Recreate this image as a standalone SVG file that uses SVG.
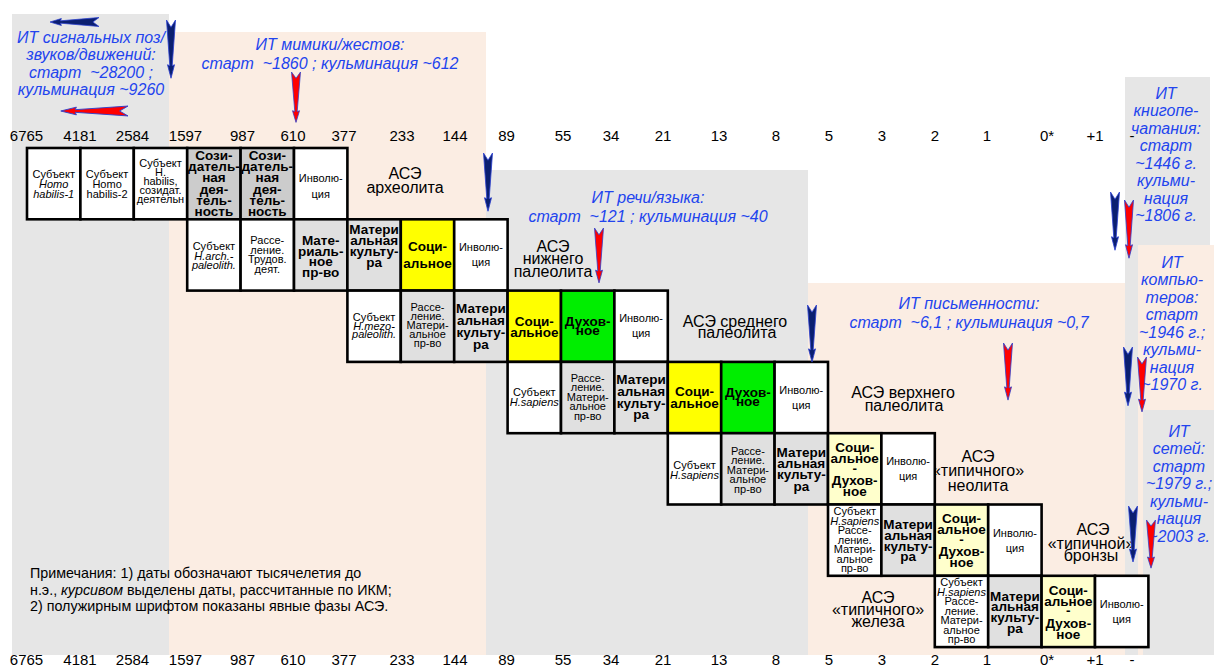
<svg xmlns="http://www.w3.org/2000/svg" xmlns:xlink="http://www.w3.org/1999/xlink" width="1214" height="668" viewBox="0 0 1214 668">
<style>
text{font-family:"Liberation Sans",Arial,sans-serif}
.ax{font-size:15px;text-anchor:middle;fill:#000}
.bl{font-size:16px;font-style:italic;fill:#2244ee;text-anchor:middle}
.ase{font-size:16px;text-anchor:middle;fill:#000}
.t{font-size:11px;text-anchor:middle;fill:#000}
.tb{font-size:13.5px;font-weight:bold;text-anchor:middle;fill:#000}
.i{font-style:italic}
.nt{font-size:14.3px;fill:#000}
rect.b{stroke:#000;stroke-width:2.6}
.w{fill:#fff}.g1{fill:#cccccc}.g2{fill:#e0e0e0}.y{fill:#ffff00}.gr{fill:#00ee00}.ly{fill:#ffffcc}
.na{fill:#0b1f70;stroke:#2a3fd0;stroke-width:.8}
.ra{fill:#ff0000;stroke:#2a3fd0;stroke-width:.8}
</style>
<defs>
<path id="arr" d="M-4.5,0 L0,7 L4.5,0 L1.2,44 L3.5,43 L0,56 L-3.5,43 L-1.2,44 Z"/>
</defs>
<rect width="1214" height="668" fill="#fff"/>
<g id="background">
<rect x="12" y="14" width="157" height="641" fill="#e6e6e6"/>
<rect x="169" y="32" width="317" height="623" fill="#fbede3"/>
<rect x="486" y="170" width="322" height="485" fill="#e6e6e6"/>
<rect x="808" y="283" width="317" height="372" fill="#fbede3"/>
<rect x="1125" y="77" width="85" height="168" fill="#e6e6e6"/>
<rect x="1125" y="245" width="13" height="410" fill="#e6e6e6"/>
<rect x="1138" y="245" width="76" height="165" fill="#fbede3"/>
<rect x="1138" y="410" width="5" height="245" fill="#fbede3"/>
<rect x="1143" y="410" width="71" height="245" fill="#e6e6e6"/>
</g>
<g id="axis-top" class="ax">
<text x="26.5" y="141">6765</text><text x="80" y="141">4181</text><text x="132.5" y="141">2584</text><text x="185.5" y="141">1597</text><text x="242.5" y="141">987</text><text x="293" y="141">610</text><text x="344" y="141">377</text><text x="402" y="141">233</text><text x="455" y="141">144</text><text x="506.5" y="141">89</text><text x="563" y="141">55</text><text x="611" y="141">34</text><text x="663" y="141">21</text><text x="719" y="141">13</text><text x="776" y="141">8</text><text x="829" y="141">5</text><text x="882" y="141">3</text><text x="935" y="141">2</text><text x="987" y="141">1</text><text x="1047" y="141">0*</text><text x="1095" y="141">+1</text><text x="1132" y="141">-</text>
</g>
<g id="axis-bottom" class="ax">
<text x="26.5" y="665">6765</text><text x="80" y="665">4181</text><text x="132.5" y="665">2584</text><text x="185.5" y="665">1597</text><text x="242.5" y="665">987</text><text x="293" y="665">610</text><text x="344" y="665">377</text><text x="402" y="665">233</text><text x="455" y="665">144</text><text x="506.5" y="665">89</text><text x="563" y="665">55</text><text x="611" y="665">34</text><text x="663" y="665">21</text><text x="719" y="665">13</text><text x="776" y="665">8</text><text x="829" y="665">5</text><text x="882" y="665">3</text><text x="935" y="665">2</text><text x="987" y="665">1</text><text x="1047" y="665">0*</text><text x="1095" y="665">+1</text><text x="1132" y="665">-</text>
</g>
<g id="it-labels" class="bl">
<text><tspan x="91" y="42.5">ИТ сигнальных поз/</tspan><tspan x="91" y="60">звуков/движений:</tspan><tspan x="91" y="77.5">старт&#160; ~28200 ;</tspan><tspan x="91" y="95">кульминация ~9260</tspan></text>
<text><tspan x="330" y="49.5">ИТ мимики/жестов:</tspan><tspan x="330" y="68.5">старт&#160; ~1860 ; кульминация ~612</tspan></text>
<text><tspan x="648" y="202.5">ИТ речи/языка:</tspan><tspan x="648" y="221.5">старт&#160; ~121 ; кульминация ~40</tspan></text>
<text><tspan x="969" y="308.5">ИТ письменности:</tspan><tspan x="969" y="327.5">старт&#160; ~6,1 ; кульминация ~0,7</tspan></text>
<text><tspan x="1166" y="98.5">ИТ</tspan><tspan x="1166" y="116">книгопе-</tspan><tspan x="1166" y="133.5">чатания:</tspan><tspan x="1166" y="151">старт</tspan><tspan x="1166" y="168.5">~1446 г.</tspan><tspan x="1166" y="186">кульми-</tspan><tspan x="1166" y="203.5">нация</tspan><tspan x="1166" y="221">~1806 г.</tspan></text>
<text><tspan x="1172" y="267.5">ИТ</tspan><tspan x="1172" y="285">компью-</tspan><tspan x="1172" y="302.5">теров:</tspan><tspan x="1172" y="320">старт</tspan><tspan x="1172" y="337.5">~1946 г.;</tspan><tspan x="1172" y="355">кульми-</tspan><tspan x="1172" y="372.5">нация</tspan><tspan x="1172" y="390">~1970 г.</tspan></text>
<text><tspan x="1179" y="436.5">ИТ</tspan><tspan x="1179" y="454">сетей:</tspan><tspan x="1179" y="471.5">старт</tspan><tspan x="1179" y="489">~1979 г.;</tspan><tspan x="1179" y="506.5">кульми-</tspan><tspan x="1179" y="524">нация</tspan><tspan x="1179" y="541.5">~2003 г.</tspan></text>
</g>
<g id="ase-labels" class="ase">
<text><tspan x="405" y="178.5">АСЭ</tspan><tspan x="405" y="193">археолита</tspan></text>
<text><tspan x="553" y="251.5">АСЭ</tspan><tspan x="553" y="264">нижнего</tspan><tspan x="553" y="276.5">палеолита</tspan></text>
<text><tspan x="735" y="326.5">АСЭ среднего</tspan><tspan x="737" y="338">палеолита</tspan></text>
<text><tspan x="903" y="397.5">АСЭ верхнего</tspan><tspan x="904" y="410.5">палеолита</tspan></text>
<text><tspan x="978" y="461.5">АСЭ</tspan><tspan x="978" y="476">«типичного»</tspan><tspan x="978" y="490.5">неолита</tspan></text>
<text><tspan x="1093" y="535">АСЭ</tspan><tspan x="1091" y="548.5">«типичной»</tspan><tspan x="1091" y="560.5">бронзы</tspan></text>
<text><tspan x="878" y="603">АСЭ</tspan><tspan x="878" y="614.5">«типичного»</tspan><tspan x="878" y="627">железа</tspan></text>
</g>
<g id="row0">
<g id="r0-subj1"><rect class="b w" x="27" y="148" width="53.4" height="71.3"/><text class="t"><tspan x="53.7" y="177.5">Субъект</tspan><tspan class="i" x="53.7" y="187.5">Homo</tspan><tspan class="i" x="53.7" y="197.5">habilis-1</tspan></text></g>
<g id="r0-subj2"><rect class="b w" x="80.4" y="148" width="53.4" height="71.3"/><text class="t"><tspan x="107.1" y="177.5">Субъект</tspan><tspan x="107.1" y="187.5">Homo</tspan><tspan x="107.1" y="197.5">habilis-2</tspan></text></g>
<g id="r0-subj3"><rect class="b w" x="133.8" y="148" width="53.4" height="71.3"/><text class="t"><tspan x="160.5" y="167">Субъект</tspan><tspan x="160.5" y="176">H.</tspan><tspan x="160.5" y="185">habilis,</tspan><tspan x="160.5" y="194">созидат.</tspan><tspan x="160.5" y="203">деятельн</tspan></text></g>
<g id="r0-soz1"><rect class="b g1" x="187.2" y="148" width="53.4" height="71.3"/><text class="tb"><tspan x="213.9" y="159.8">Сози-</tspan><tspan x="213.9" y="171">датель-</tspan><tspan x="213.9" y="182.3">ная</tspan><tspan x="213.9" y="193.5">дея-</tspan><tspan x="213.9" y="204.8">тель-</tspan><tspan x="213.9" y="216">ность</tspan></text></g>
<g id="r0-soz2"><rect class="b g1" x="240.6" y="148" width="53.4" height="71.3"/><text class="tb"><tspan x="267.3" y="159.8">Сози-</tspan><tspan x="267.3" y="171">датель-</tspan><tspan x="267.3" y="182.3">ная</tspan><tspan x="267.3" y="193.5">дея-</tspan><tspan x="267.3" y="204.8">тель-</tspan><tspan x="267.3" y="216">ность</tspan></text></g>
<g id="r0-inv"><rect class="b w" x="294" y="148" width="53.4" height="71.3"/><text class="t"><tspan x="320.7" y="182">Инволю-</tspan><tspan x="320.7" y="198">ция</tspan></text></g>
</g>
<g id="row1">
<g id="r1-subj"><rect class="b w" x="187.2" y="219.3" width="53.4" height="71.3"/><text class="t"><tspan x="213.9" y="250">Субъект</tspan><tspan class="i" x="213.9" y="259.5">H.arch.-</tspan><tspan class="i" x="213.9" y="269">paleolith.</tspan></text></g>
<g id="r1-ras"><rect class="b w" x="240.6" y="219.3" width="53.4" height="71.3"/><text class="t"><tspan x="267.3" y="244">Рассе-</tspan><tspan x="267.3" y="253.5">ление.</tspan><tspan x="267.3" y="263">Трудов.</tspan><tspan x="267.3" y="272.5">деят.</tspan></text></g>
<g id="r1-mat"><rect class="b g2" x="294" y="219.3" width="53.4" height="71.3"/><text class="tb"><tspan x="320.7" y="244.8">Мате-</tspan><tspan x="320.7" y="255.5">риаль-</tspan><tspan x="320.7" y="266.3">ное</tspan><tspan x="320.7" y="277">пр-во</tspan></text></g>
<g id="r1-mk"><rect class="b g2" x="347.4" y="219.3" width="53.4" height="71.3"/><text class="tb"><tspan x="374.1" y="233.8">Матери</tspan><tspan x="374.1" y="244.8">альная</tspan><tspan x="374.1" y="256">культу-</tspan><tspan x="374.1" y="267">ра</tspan></text></g>
<g id="r1-soc"><rect class="b y" x="400.8" y="219.3" width="53.4" height="71.3"/><text class="tb"><tspan x="427.5" y="250.8">Соци-</tspan><tspan x="427.5" y="267.8">альное</tspan></text></g>
<g id="r1-inv"><rect class="b w" x="454.2" y="219.3" width="53.4" height="71.3"/><text class="t"><tspan x="480.9" y="251">Инволю-</tspan><tspan x="480.9" y="266">ция</tspan></text></g>
</g>
<g id="row2">
<g id="r2-subj"><rect class="b w" x="347.4" y="290.6" width="53.4" height="71.3"/><text class="t"><tspan x="374.1" y="321">Субъект</tspan><tspan class="i" x="374.1" y="329.5">H.mezo-</tspan><tspan class="i" x="374.1" y="338">paleolith.</tspan></text></g>
<g id="r2-ras"><rect class="b g2" x="400.8" y="290.6" width="53.4" height="71.3"/><text class="t"><tspan x="427.5" y="311">Рассе-</tspan><tspan x="427.5" y="320">ление.</tspan><tspan x="427.5" y="329">Матери-</tspan><tspan x="427.5" y="338">альное</tspan><tspan x="427.5" y="347">пр-во</tspan></text></g>
<g id="r2-mk"><rect class="b g2" x="454.2" y="290.6" width="53.4" height="71.3"/><text class="tb"><tspan x="480.9" y="312.8">Матери</tspan><tspan x="480.9" y="324.8">альная</tspan><tspan x="480.9" y="336.8">культу-</tspan><tspan x="480.9" y="348.8">ра</tspan></text></g>
<g id="r2-soc"><rect class="b y" x="507.6" y="290.6" width="53.4" height="71.3"/><text class="tb"><tspan x="534.3" y="325.8">Соци-</tspan><tspan x="534.3" y="336.8">альное</tspan></text></g>
<g id="r2-duh"><rect class="b gr" x="561" y="290.6" width="53.4" height="71.3"/><text class="tb"><tspan x="587.7" y="325.8">Духов-</tspan><tspan x="587.7" y="334.8">ное</tspan></text></g>
<g id="r2-inv"><rect class="b w" x="614.4" y="290.6" width="53.4" height="71.3"/><text class="t"><tspan x="641.1" y="322">Инволю-</tspan><tspan x="641.1" y="337">ция</tspan></text></g>
</g>
<g id="row3">
<g id="r3-subj"><rect class="b w" x="507.6" y="361.9" width="53.4" height="71.3"/><text class="t"><tspan x="534.3" y="396">Субъект</tspan><tspan class="i" x="534.3" y="406">H.sapiens</tspan></text></g>
<g id="r3-ras"><rect class="b g2" x="561" y="361.9" width="53.4" height="71.3"/><text class="t"><tspan x="587.7" y="382">Рассе-</tspan><tspan x="587.7" y="391">ление.</tspan><tspan x="587.7" y="400.5">Матери-</tspan><tspan x="587.7" y="410">альное</tspan><tspan x="587.7" y="419.5">пр-во</tspan></text></g>
<g id="r3-mk"><rect class="b g2" x="614.4" y="361.9" width="53.4" height="71.3"/><text class="tb"><tspan x="641.1" y="383.8">Матери</tspan><tspan x="641.1" y="395.8">альная</tspan><tspan x="641.1" y="407.8">культу-</tspan><tspan x="641.1" y="418.8">ра</tspan></text></g>
<g id="r3-soc"><rect class="b y" x="667.8" y="361.9" width="53.4" height="71.3"/><text class="tb"><tspan x="694.5" y="395.8">Соци-</tspan><tspan x="694.5" y="407.8">альное</tspan></text></g>
<g id="r3-duh"><rect class="b gr" x="721.2" y="361.9" width="53.4" height="71.3"/><text class="tb"><tspan x="747.9" y="396.8">Духов-</tspan><tspan x="747.9" y="405.8">ное</tspan></text></g>
<g id="r3-inv"><rect class="b w" x="774.6" y="361.9" width="53.4" height="71.3"/><text class="t"><tspan x="801.3" y="394">Инволю-</tspan><tspan x="801.3" y="409">ция</tspan></text></g>
</g>
<g id="row4">
<g id="r4-subj"><rect class="b w" x="667.8" y="433.2" width="53.4" height="71.3"/><text class="t"><tspan x="694.5" y="469">Субъект</tspan><tspan class="i" x="694.5" y="479">H.sapiens</tspan></text></g>
<g id="r4-ras"><rect class="b g2" x="721.2" y="433.2" width="53.4" height="71.3"/><text class="t"><tspan x="747.9" y="454.5">Рассе-</tspan><tspan x="747.9" y="464">ление.</tspan><tspan x="747.9" y="473.5">Матери-</tspan><tspan x="747.9" y="483">альное</tspan><tspan x="747.9" y="492.5">пр-во</tspan></text></g>
<g id="r4-mk"><rect class="b g2" x="774.6" y="433.2" width="53.4" height="71.3"/><text class="tb"><tspan x="801.3" y="456.8">Матери</tspan><tspan x="801.3" y="468.1">альная</tspan><tspan x="801.3" y="479.4">культу-</tspan><tspan x="801.3" y="490.8">ра</tspan></text></g>
<g id="r4-sd"><rect class="b ly" x="828" y="433.2" width="53.4" height="71.3"/><text class="tb"><tspan x="854.7" y="452">Соци-</tspan><tspan x="854.7" y="463">альное</tspan><tspan x="854.7" y="472.5">-</tspan><tspan x="854.7" y="485">Духов-</tspan><tspan x="854.7" y="496">ное</tspan></text></g>
<g id="r4-inv"><rect class="b w" x="881.4" y="433.2" width="53.4" height="71.3"/><text class="t"><tspan x="908.1" y="465.2">Инволю-</tspan><tspan x="908.1" y="480.2">ция</tspan></text></g>
</g>
<g id="row5">
<g id="r5-subj"><rect class="b w" x="828" y="504.5" width="53.4" height="71.3"/><text class="t"><tspan x="854.7" y="515">Субъект</tspan><tspan class="i" x="854.7" y="524.5">H.sapiens</tspan><tspan x="854.7" y="534">Рассе-</tspan><tspan x="854.7" y="543.5">ление.</tspan><tspan x="854.7" y="553">Матери-</tspan><tspan x="854.7" y="562.5">альное</tspan><tspan x="854.7" y="572">пр-во</tspan></text></g>
<g id="r5-mk"><rect class="b g2" x="881.4" y="504.5" width="53.4" height="71.3"/><text class="tb"><tspan x="908.1" y="529.3">Матери</tspan><tspan x="908.1" y="540">альная</tspan><tspan x="908.1" y="550.7">культу-</tspan><tspan x="908.1" y="561.4">ра</tspan></text></g>
<g id="r5-sd"><rect class="b ly" x="934.8" y="504.5" width="53.4" height="71.3"/><text class="tb"><tspan x="961.5" y="523.3">Соци-</tspan><tspan x="961.5" y="534.3">альное</tspan><tspan x="961.5" y="543.8">-</tspan><tspan x="961.5" y="556.3">Духов-</tspan><tspan x="961.5" y="567.3">ное</tspan></text></g>
<g id="r5-inv"><rect class="b w" x="988.2" y="504.5" width="53.4" height="71.3"/><text class="t"><tspan x="1014.9" y="537">Инволю-</tspan><tspan x="1014.9" y="551.5">ция</tspan></text></g>
</g>
<g id="row6">
<g id="r6-subj"><rect class="b w" x="934.8" y="575.8" width="53.4" height="71.3"/><text class="t"><tspan x="961.5" y="586.3">Субъект</tspan><tspan class="i" x="961.5" y="595.8">H.sapiens</tspan><tspan x="961.5" y="605.3">Рассе-</tspan><tspan x="961.5" y="614.8">ление.</tspan><tspan x="961.5" y="624.3">Матери-</tspan><tspan x="961.5" y="633.8">альное</tspan><tspan x="961.5" y="643.3">пр-во</tspan></text></g>
<g id="r6-mk"><rect class="b g2" x="988.2" y="575.8" width="53.4" height="71.3"/><text class="tb"><tspan x="1014.9" y="600.6">Матери</tspan><tspan x="1014.9" y="611.3">альная</tspan><tspan x="1014.9" y="622">культу-</tspan><tspan x="1014.9" y="632.7">ра</tspan></text></g>
<g id="r6-sd"><rect class="b ly" x="1041.6" y="575.8" width="53.4" height="71.3"/><text class="tb"><tspan x="1068.3" y="594.6">Соци-</tspan><tspan x="1068.3" y="605.6">альное</tspan><tspan x="1068.3" y="615.1">-</tspan><tspan x="1068.3" y="627.6">Духов-</tspan><tspan x="1068.3" y="638.6">ное</tspan></text></g>
<g id="r6-inv"><rect class="b w" x="1095" y="575.8" width="53.4" height="71.3"/><text class="t"><tspan x="1121.7" y="607.8">Инволю-</tspan><tspan x="1121.7" y="622.8">ция</tspan></text></g>
</g>
<g id="arrows">
<use xlink:href="#arr" href="#arr" class="na" transform="translate(171,20) scale(1,1.04)"/>
<use xlink:href="#arr" href="#arr" class="na" transform="translate(488,153) scale(1,1.04)"/>
<use xlink:href="#arr" href="#arr" class="na" transform="translate(812,305) scale(1,1.02)"/>
<use xlink:href="#arr" href="#arr" class="na" transform="translate(1115,192) scale(1,1.04)"/>
<use xlink:href="#arr" href="#arr" class="na" transform="translate(1128,347) scale(1,1.05)"/>
<use xlink:href="#arr" href="#arr" class="na" transform="translate(1133,506)"/>
<use xlink:href="#arr" href="#arr" class="ra" transform="translate(296,72) scale(1,0.9)"/>
<use xlink:href="#arr" href="#arr" class="ra" transform="translate(599,228) scale(1,0.98)"/>
<use xlink:href="#arr" href="#arr" class="ra" transform="translate(1008,343) scale(1,1.02)"/>
<use xlink:href="#arr" href="#arr" class="ra" transform="translate(1129,200) scale(1,1.04)"/>
<use xlink:href="#arr" href="#arr" class="ra" transform="translate(1142,357) scale(1,0.98)"/>
<use xlink:href="#arr" href="#arr" class="ra" transform="translate(1151,520) scale(1,0.86)"/>
<use xlink:href="#arr" href="#arr" class="na" transform="translate(99,22) rotate(90) scale(1,0.875)"/>
<use xlink:href="#arr" href="#arr" class="ra" transform="translate(128,111) rotate(90) scale(1.1,1.2)"/>
</g>
<g id="notes" class="nt">
<text x="30" y="578">Примечания: 1) даты обозначают тысячелетия до</text>
<text x="30" y="595">н.э., <tspan class="i">курсивом</tspan> выделены даты, рассчитанные по ИКМ;</text>
<text x="30" y="611">2) полужирным шрифтом показаны явные фазы АСЭ.</text>
</g>
</svg>
